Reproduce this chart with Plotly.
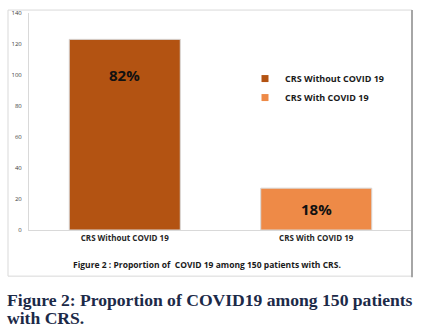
import plotly.graph_objects as go

categories = ["CRS Without COVID 19", "CRS With COVID 19"]
patients = [123, 27]
percent_labels = ["82%", "18%"]
bar_colors = ["#B35312", "#EE8A47"]
y_ticks = [0, 20, 40, 60, 80, 100, 120, 140]
caption_inner = "Figure 2 : Proportion of  COVID 19 among 150 patients with CRS."
caption_outer_lines = ["Figure 2: Proportion of COVID19 among 150 patients", "with CRS."]

W, H = 421, 330
L, R, T, B = 29, 412, 9, 230


def px_x(x):
    return (x - L) / (R - L)


def px_y(y):
    return (B - y) / (B - T)


fig = go.Figure()
for cat, val, col in zip(categories, patients, bar_colors):
    fig.add_trace(go.Bar(
        x=[cat], y=[val], name=cat, width=0.58,
        marker=dict(color=col, line=dict(color="#d9d9d9", width=1)),
        showlegend=False, hoverinfo="skip",
    ))
    # legend-only marker entries (small squares like the original)
    fig.add_trace(go.Scatter(
        x=[None], y=[None], mode="markers", name=cat,
        marker=dict(symbol="square", size=7, color=col),
    ))

annotations = []
shifts = [-36, -21]
for cat, val, lab, sh in zip(categories, patients, percent_labels, shifts):
    annotations.append(dict(
        x=cat, y=val, xref="x", yref="y", text="<b>%s</b>" % lab,
        showarrow=False, yshift=sh, yanchor="middle",
        font=dict(family="Open Sans", size=15, color="#111111"),
    ))

annotations.append(dict(
    x=px_x(207), y=px_y(265), xref="paper", yref="paper",
    text="<b>%s</b>" % caption_inner, showarrow=False,
    xanchor="center", yanchor="middle",
    font=dict(family="Open Sans", size=8.5, color="#1a1a1a"),
))
for line, yc in zip(caption_outer_lines, [301, 320]):
    annotations.append(dict(
        x=px_x(5), y=px_y(yc), xref="paper", yref="paper",
        text="<b>%s</b>" % line, showarrow=False,
        xanchor="left", yanchor="middle", align="left",
        font=dict(family="Liberation Serif", size=17.6, color="#1c2a48"),
    ))

line_light = dict(color="#d9d9d9", width=1)
shapes = [
    dict(type="line", xref="paper", yref="paper", x0=px_x(8), x1=px_x(412), y0=px_y(6), y1=px_y(6), line=line_light),
    dict(type="line", xref="paper", yref="paper", x0=px_x(8), x1=px_x(8), y0=px_y(6), y1=px_y(277), line=line_light),
    dict(type="line", xref="paper", yref="paper", x0=px_x(8), x1=px_x(412), y0=px_y(277), y1=px_y(277), line=line_light),
    dict(type="line", xref="paper", yref="paper", x0=px_x(412), x1=px_x(412), y0=px_y(6), y1=px_y(278), line=dict(color="#a6a6a6", width=2)),
]

fig.update_layout(
    width=W, height=H,
    margin=dict(l=L, r=W - R, t=T, b=H - B),
    paper_bgcolor="white", plot_bgcolor="white",
    barmode="overlay",
    showlegend=True,
    legend=dict(
        x=px_x(245), y=px_y(61), xanchor="left", yanchor="top",
        font=dict(family="Open Sans", size=9, color="#1a1a1a", weight="bold"),
        bgcolor="rgba(0,0,0,0)", itemclick=False, itemdoubleclick=False,
        tracegroupgap=0,
    ),
    annotations=annotations,
    shapes=shapes,
    font=dict(family="Open Sans"),
)
fig.update_xaxes(
    categoryorder="array", categoryarray=categories,
    showline=True, linecolor="#d9d9d9", linewidth=1,
    showgrid=False, ticks="",
    tickfont=dict(family="Open Sans", size=8, color="#262626", weight="bold"),
    fixedrange=True,
)
fig.update_yaxes(
    range=[0, 140], tickvals=y_ticks,
    showline=True, linecolor="#d9d9d9", linewidth=1,
    showgrid=False, zeroline=False, ticks="",
    ticklabelstandoff=5,
    tickfont=dict(family="Open Sans", size=6, color="#404040"),
    fixedrange=True,
)

fig.write_html(
    "out.html",
    config={"displayModeBar": False},
    post_script="document.body.style.margin='0';document.body.style.padding='0';",
)
